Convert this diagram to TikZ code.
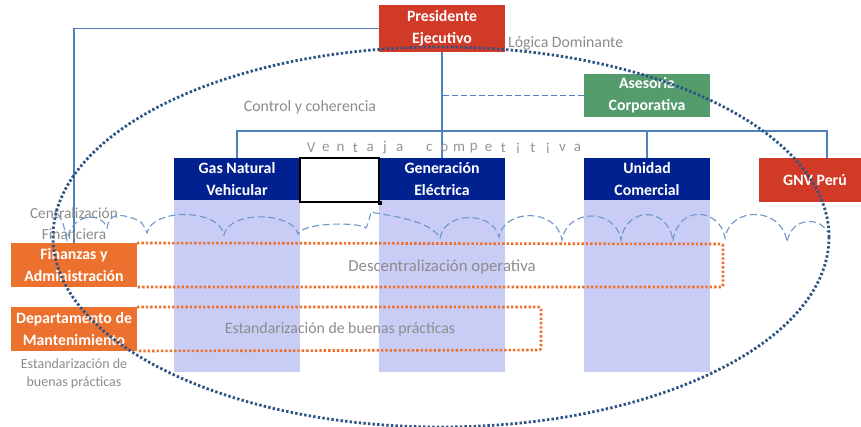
\documentclass[tikz,border=0pt]{standalone}
\usepackage{fontspec}
\setmainfont{Carlito}
\definecolor{pres}{RGB}{210,58,40}
\definecolor{ase}{RGB}{84,156,108}
\definecolor{unit}{RGB}{0,33,143}
\definecolor{colbg}{RGB}{201,205,246}
\definecolor{org}{RGB}{237,113,46}
\definecolor{connc}{RGB}{79,129,189}
\definecolor{ell}{RGB}{46,84,133}
\definecolor{cloudc}{RGB}{110,150,200}
\definecolor{txtg}{RGB}{140,140,140}
\tikzset{
  box/.style={inner sep=0pt, outer sep=0pt, text=white, align=center,
    font=\fontsize{15.8}{22}\selectfont\bfseries, minimum width=126pt, minimum height=43pt},
  redbox/.style={box, fill=pres},
  greenbox/.style={box, fill=ase},
  bluebox/.style={box, fill=unit},
  orgbox/.style={box, fill=org, minimum height=44pt},
  column/.style={fill=colbg, inner sep=0pt, outer sep=0pt, minimum width=126pt, minimum height=172pt},
  conn/.style={draw=connc, line width=1.6pt},
  dashconn/.style={conn, dash pattern=on 6pt off 3pt},
  orgdots/.style={draw=org, line width=2.6pt, dash pattern=on 2.4pt off 2pt, rounded corners=2pt},
  ellipsedots/.style={draw=ell, line width=2.8pt, dash pattern=on 2.4pt off 2.2pt},
  cloudline/.style={draw=cloudc, line width=1.1pt, dash pattern=on 7pt off 3.5pt},
  graytext/.style={text=txtg, inner sep=0pt, align=center, font=\fontsize{15.8}{20}\selectfont},
  vtext/.style={text={rgb,255:red,150;green,150;blue,150}, inner sep=0pt, font=\fontsize{15}{16}\selectfont},
}
\begin{document}
\begin{tikzpicture}[x=1pt,y=-1pt]
\useasboundingbox (0,0) rectangle (861,427);
\fill[white] (0,0) rectangle (861,427);
\clip (0,0) rectangle (861,427);

% light columns
\node[column, anchor=north west] (c1) at (174,200) {};
\node[column, anchor=north west] (c2) at (379,200) {};
\node[column, anchor=north west] (c3) at (584,200) {};

% boxes
\node[redbox, minimum height=47pt] (pres) at (442,28.5) {Presidente\\Ejecutivo};
\node[greenbox] (ase) at (647,95.5) {Asesoria\\Corporativa};
\node[bluebox, minimum height=42pt] (gas) at (237,179) {Gas Natural\\Vehicular};
\node[bluebox, minimum height=42pt] (gen) at (442,179) {Generación\\Eléctrica};
\node[bluebox, minimum height=42pt] (uni) at (647,179) {Unidad\\Comercial};
\node[redbox, minimum width=102pt, minimum height=44pt] (gnv) at (810,180) {\hspace*{10pt}GNV Perú};
\node[draw=black, fill=white, line width=2pt, inner sep=0pt, minimum width=79pt, minimum height=44pt] (blank) at (339.5,180) {};
\node[fill=black, inner sep=0pt, minimum size=4pt] (handle) at (blank.south east) {};
\node[orgbox] (fin) at (74,265) {Finanzas y\\Administración};
\node[orgbox] (dep) at (74,329) {Departamento de\\Mantenimiento};

% connectors
\coordinate (busL) at (gas.north |- 0,131);
\coordinate (busR) at (827,131);
\draw[conn] (pres.west) -| (fin.north);
\draw[conn] (pres.south) -- (gen.north);
\draw[conn] (gas.north) -- (busL) -- (busR) -- (busR |- gnv.north);
\draw[conn] (uni.north) -- (uni.north |- busL);
\draw[dashconn] (ase.west) -- (ase.west -| pres.south);

% orange dotted regions
\draw[orgdots] (fin.north east) -- (723,244) -- (723,287) -- (fin.south east);
\draw[orgdots] (dep.north east) -- (541,307) -- (541,350) -- (dep.south east);

% texts
\node[graytext] (ctrl) at (310,107) {Control y coherencia};
\node[graytext, anchor=west] (logica) at (508,43) {Lógica Dominante};
\node[graytext, font=\fontsize{16.8}{20}\selectfont] (desc) at (442,267) {Descentralización operativa};
\node[graytext] (estd) at (340,329) {Estandarización de buenas prácticas};
\node[graytext, font=\fontsize{14}{18}\selectfont] (estd2) at (74,374) {Estandarización de\\buenas prácticas};
\node[graytext, font=\fontsize{15.4}{21}\selectfont] (cent) at (74,224) {Centralización\\Financiera};
\foreach \ch [count=\i from 0] in {V,e,n,t,a,j,a,{},c,o,m,p,e,t,i,t,i,v,a}
  \node[vtext] (v\i) at (311+14.8*\i,148) {\ch};

% cloud line
\draw[cloudline] (58,214) .. controls (63,222) .. (67,240)
  .. controls (72,212) and (102,212) .. (107,228)
  .. controls (110,212) and (120,214) .. (135,219) .. controls (142,222) .. (147,233)
  .. controls (152,208) and (219,208) .. (224,235)
  .. controls (229,210) and (293,212) .. (298,234)
  .. controls (303,222) and (360,222) .. (366,228) .. controls (368,224) .. (371,212)
  .. controls (390,216) and (430,220) .. (440,238)
  .. controls (445,210) and (494,212) .. (499,237)
  .. controls (504,208) and (557,208) .. (562,240)
  .. controls (567,208) and (616,208) .. (621,240)
  .. controls (626,206) and (668,206) .. (673,241)
  .. controls (678,204) and (720,208) .. (725,238)
  .. controls (730,206) and (782,206) .. (787,242)
  .. controls (792,215) and (822,218) .. (827,232);

% big dotted ellipse
\draw[ellipsedots] (441,237) ellipse [x radius=388, y radius=190];
\end{tikzpicture}
\end{document}
